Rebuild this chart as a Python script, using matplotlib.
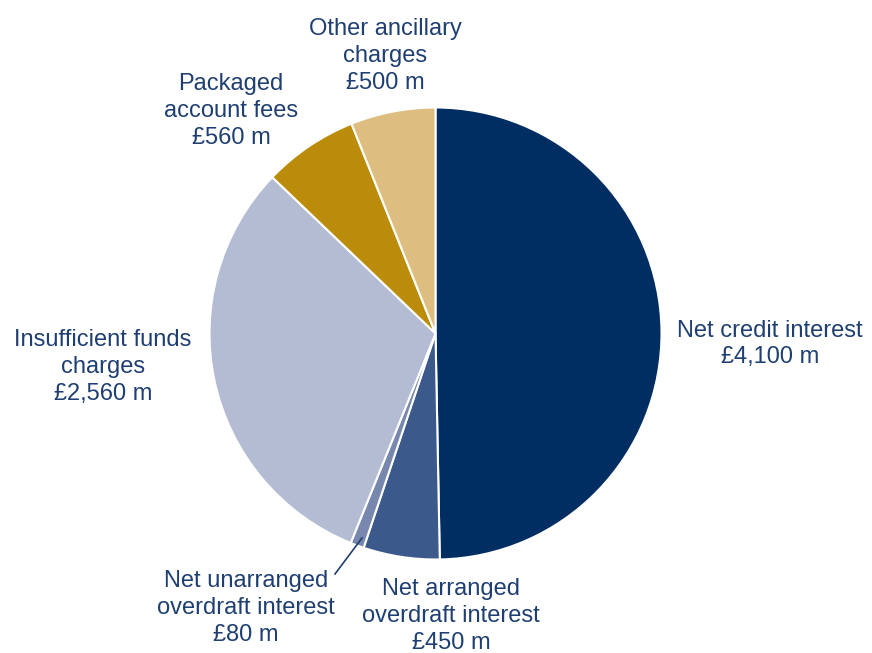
import matplotlib.pyplot as plt

## segment values in £ m, clockwise from the top
labels = ["Net credit interest\n£4,100 m",
          "Net arranged\noverdraft interest\n£450 m",
          "Net unarranged\noverdraft interest\n£80 m",
          "Insufficient funds\ncharges\n£2,560 m",
          "Packaged\naccount fees\n£560 m",
          "Other ancillary\ncharges\n£500 m"]
values = [4100, 450, 80, 2560, 560, 500]
colors = ["#002d62", "#3b5a8b", "#7787ad", "#b4bcd4", "#bb8c0a", "#ddbe80"]

# label centres in pixels (x, y from top)
label_pos = [(770, 344), (451, 616), (246, 608), (103, 367), (231, 111), (385, 56)]

W, H = 872, 653
fig = plt.figure(figsize=(W / 100, H / 100), dpi=100)
ax = fig.add_axes([0, 0, 1, 1])

ax.pie(values, colors=colors, startangle=90, counterclock=False,
       center=(435.5, H - 333.5), radius=226,
       wedgeprops=dict(edgecolor="white", linewidth=1.5))
ax.set_xlim(0, W)
ax.set_ylim(0, H)
ax.set_aspect("equal")
ax.axis("off")

txt_col = "#1f3f72"
for lab, (x, y) in zip(labels, label_pos):
    ax.text(x, H - y, lab, ha="center", va="center", fontsize=17,
            color=txt_col, family="Liberation Sans", linespacing=1.28)

# leader line for the small slice
ax.plot([335, 362], [H - 574, H - 538], color=txt_col, lw=1.2)

fig.savefig("out.png", dpi=100)
